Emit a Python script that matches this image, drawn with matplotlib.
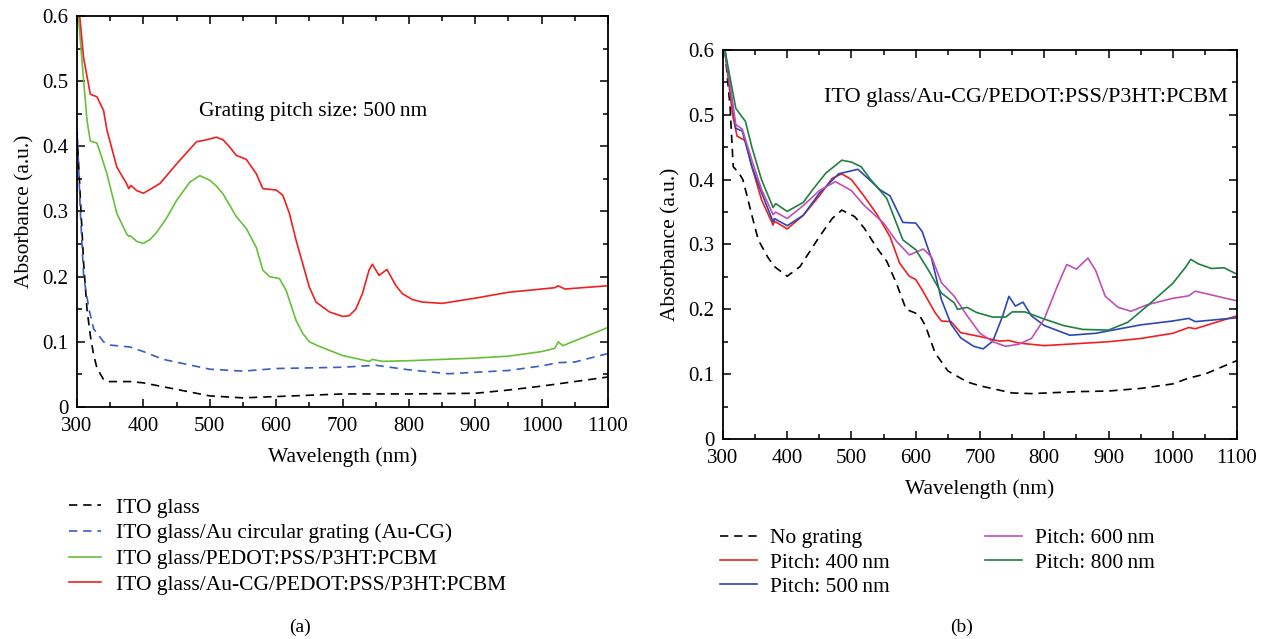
import numpy as np
import matplotlib.pyplot as plt
from matplotlib.ticker import MultipleLocator

# ---- данные панели (a) ----
ito_x = [300, 305, 310, 315, 320, 325, 330, 340, 345, 380, 400, 450, 500, 550, 600, 700, 800, 900, 950, 1000, 1100]
ito_y = [0.42, 0.32, 0.22, 0.15, 0.11, 0.08, 0.06, 0.042, 0.039, 0.039, 0.037, 0.027, 0.017, 0.014, 0.016, 0.02,
         0.02, 0.021, 0.026, 0.032, 0.046]

aucg_x = [300, 305, 310, 318, 325, 340, 350, 380, 400, 430, 500, 550, 600, 700, 750, 800, 860, 950, 1000, 1025,
          1050, 1100]
aucg_y = [0.43, 0.30, 0.20, 0.15, 0.12, 0.10, 0.095, 0.092, 0.085, 0.073, 0.058, 0.055, 0.059, 0.061, 0.064,
          0.057, 0.051, 0.056, 0.063, 0.068, 0.069, 0.082]

pedot_x = [302, 306, 310, 315, 320, 330, 335, 345, 360, 375, 378, 380, 390, 400, 410, 420, 435, 450, 470, 485,
           500, 510, 520, 540, 555, 570, 580, 590, 605, 615, 630, 640, 650, 665, 680, 700, 740, 745, 760, 800,
           900, 950, 1000, 1020, 1025, 1032, 1100]
pedot_y = [0.6, 0.55, 0.5, 0.44, 0.408, 0.405, 0.39, 0.358, 0.297, 0.265, 0.262, 0.263, 0.254, 0.251, 0.257,
           0.268, 0.29, 0.317, 0.345, 0.355, 0.348, 0.339, 0.327, 0.292, 0.274, 0.245, 0.21, 0.2, 0.197, 0.179,
           0.133, 0.113, 0.1, 0.093, 0.087, 0.079, 0.07, 0.073, 0.07, 0.071, 0.075, 0.078, 0.085, 0.09, 0.1,
           0.094, 0.122]

full_x = [304, 310, 320, 330, 340, 345, 360, 375, 378, 381, 390, 400, 412, 425, 450, 480, 495, 510, 520, 530,
          540, 555, 570, 580, 600, 610, 620, 630, 640, 650, 660, 680, 700, 710, 720, 730, 740, 745, 755, 767,
          780, 790, 805, 820, 850, 900, 950, 1000, 1020, 1025, 1035, 1100]
full_y = [0.6, 0.535, 0.48, 0.476, 0.455, 0.425, 0.368, 0.342, 0.335, 0.34, 0.332, 0.328, 0.335, 0.343, 0.373,
          0.407, 0.41, 0.414, 0.41, 0.399, 0.386, 0.38, 0.358, 0.335, 0.333, 0.325, 0.297, 0.256, 0.22, 0.184,
          0.161, 0.146, 0.139, 0.14, 0.15, 0.174, 0.21, 0.219, 0.202, 0.211, 0.187, 0.174, 0.165, 0.161, 0.159,
          0.167, 0.176, 0.181, 0.183, 0.186, 0.181, 0.186]

labels_a = ['ITO glass', 'ITO glass/Au circular grating (Au-CG)',
            'ITO glass/PEDOT:PSS/P3HT:PCBM', 'ITO glass/Au-CG/PEDOT:PSS/P3HT:PCBM']

# ---- данные панели (b) ----
nog_x = [303, 311, 316, 325, 331, 339, 345, 355, 370, 380, 400, 420, 450, 470, 485, 505, 520, 540, 555, 570,
         585, 605, 615, 630, 650, 680, 700, 750, 780, 850, 900, 950, 1000, 1025, 1050, 1100]
nog_y = [0.6, 0.513, 0.42, 0.41, 0.4, 0.369, 0.345, 0.307, 0.28, 0.266, 0.251, 0.266, 0.312, 0.34, 0.353, 0.343,
         0.325, 0.294, 0.274, 0.24, 0.2, 0.192, 0.175, 0.133, 0.105, 0.088, 0.082, 0.071, 0.07, 0.073, 0.074,
         0.078, 0.085, 0.094, 0.1, 0.121]

p400_x = [303, 315, 322, 335, 345, 360, 378, 380, 400, 425, 450, 470, 485, 500, 520, 540, 560, 575, 590, 600,
          610, 630, 640, 655, 670, 700, 730, 745, 760, 800, 900, 950, 1000, 1025, 1035, 1100]
p400_y = [0.6, 0.5, 0.467, 0.46, 0.42, 0.369, 0.33, 0.336, 0.324, 0.345, 0.375, 0.402, 0.409, 0.4, 0.374,
          0.346, 0.312, 0.271, 0.251, 0.246, 0.23, 0.195, 0.182, 0.181, 0.164, 0.158, 0.151, 0.152, 0.148,
          0.144, 0.15, 0.155, 0.163, 0.172, 0.17, 0.19]

p500_x = [303, 320, 330, 345, 360, 378, 380, 400, 425, 450, 480, 510, 530, 545, 560, 580, 600, 610, 625, 640,
          655, 670, 690, 705, 720, 735, 745, 755, 767, 780, 800, 840, 880, 950, 1000, 1025, 1035, 1100]
p500_y = [0.6, 0.479, 0.475, 0.42, 0.38, 0.335, 0.34, 0.329, 0.345, 0.379, 0.409, 0.416, 0.398, 0.384, 0.375,
          0.334, 0.333, 0.32, 0.277, 0.215, 0.177, 0.156, 0.143, 0.139, 0.151, 0.189, 0.22, 0.205, 0.211,
          0.19, 0.175, 0.16, 0.163, 0.176, 0.182, 0.186, 0.181, 0.187]

p600_x = [303, 320, 330, 345, 360, 378, 382, 400, 425, 450, 475, 500, 520, 550, 570, 590, 600, 612, 625, 640,
          660, 680, 700, 720, 740, 760, 780, 800, 820, 835, 850, 868, 880, 895, 915, 935, 960, 1000, 1020,
          1025, 1035, 1100]
p600_y = [0.6, 0.485, 0.478, 0.43, 0.385, 0.346, 0.35, 0.34, 0.36, 0.383, 0.397, 0.383, 0.36, 0.333, 0.305,
          0.284, 0.288, 0.293, 0.28, 0.241, 0.22, 0.19, 0.163, 0.15, 0.143, 0.146, 0.155, 0.185, 0.235, 0.269,
          0.262, 0.279, 0.26, 0.22, 0.203, 0.197, 0.207, 0.217, 0.22, 0.221, 0.228, 0.213]

p800_x = [303, 320, 328, 335, 345, 360, 378, 382, 400, 425, 440, 460, 485, 500, 515, 530, 555, 580, 600, 620,
          640, 660, 665, 680, 695, 720, 740, 750, 770, 800, 830, 860, 900, 930, 960, 1000, 1020, 1028, 1040,
          1060, 1080, 1100]
p800_y = [0.6, 0.51, 0.499, 0.49, 0.45, 0.4, 0.357, 0.363, 0.351, 0.365, 0.385, 0.41, 0.43, 0.427, 0.42, 0.4,
          0.371, 0.307, 0.292, 0.26, 0.225, 0.21, 0.2, 0.203, 0.195, 0.188, 0.188, 0.196, 0.196, 0.185, 0.175,
          0.169, 0.168, 0.18, 0.205, 0.24, 0.265, 0.277, 0.27, 0.263, 0.264, 0.254]

labels_b = ['No grating', 'Pitch: 400\u2009nm', 'Pitch: 500\u2009nm', 'Pitch: 600\u2009nm', 'Pitch: 800\u2009nm']

plt.rcParams['font.family'] = ['Liberation Serif', 'DejaVu Serif']
plt.rcParams['font.size'] = 15

DASH = (0, (5, 3.5))


def style_axes(ax):
    ax.set_xlim(300, 1100)
    ax.set_ylim(0, 0.6)
    ax.xaxis.set_major_locator(MultipleLocator(100))
    ax.xaxis.set_minor_locator(MultipleLocator(50))
    ax.yaxis.set_major_locator(MultipleLocator(0.1))
    ax.yaxis.set_minor_locator(MultipleLocator(0.05))
    ax.yaxis.set_major_formatter(lambda v, p: '0' if abs(v) < 1e-9 else f'{v:.1f}')
    ax.tick_params(which='both', direction='in', top=True, right=True, width=1.1, labelsize=15)
    ax.tick_params(axis='x', which='both', pad=7)
    ax.tick_params(axis='y', which='both', pad=6)
    ax.tick_params(which='major', length=6)
    ax.tick_params(which='minor', length=3.5)
    for s in ax.spines.values():
        s.set_linewidth(1.3)
    ax.set_xlabel('Wavelength (nm)', fontsize=15.5, labelpad=8)
    ax.set_ylabel('Absorbance (a.u.)', fontsize=15.5, labelpad=6)


fig = plt.figure(figsize=(12.69, 6.39), dpi=100)

# (a)
ax1 = fig.add_axes([0.0607, 0.3631, 0.4184, 0.6119])
ax1.plot(ito_x, ito_y, color='black', lw=1.2, ls=DASH, label=labels_a[0])
ax1.plot(aucg_x, aucg_y, color='#3a5cc0', lw=1.2, ls=DASH, label=labels_a[1])
ax1.plot(pedot_x, pedot_y, color='#66c03a', lw=1.2, label=labels_a[2])
ax1.plot(full_x, full_y, color='#f02020', lw=1.2, label=labels_a[3])
style_axes(ax1)
ax1.text(655, 0.453, 'Grating pitch size: 500\u2009nm', ha='center', va='center', fontsize=15.5)
ax1.legend(loc='upper left', bbox_to_anchor=(-0.032, -0.21), frameon=False, fontsize=15.5,
           handlelength=1.5, handletextpad=0.7, labelspacing=0.26, borderaxespad=0)

# (b)
ax2 = fig.add_axes([0.5697, 0.313, 0.4051, 0.6088])
ax2.plot(nog_x, nog_y, color='black', lw=1.2, ls=DASH, label=labels_b[0])
ax2.plot(p400_x, p400_y, color='#f02020', lw=1.2, label=labels_b[1])
ax2.plot(p500_x, p500_y, color='#2a48b0', lw=1.2, label=labels_b[2])
ax2.plot(p600_x, p600_y, color='#c050b4', lw=1.2, label=labels_b[3])
ax2.plot(p800_x, p800_y, color='#1e8040', lw=1.2, label=labels_b[4])
style_axes(ax2)
ax2.text(772, 0.526, 'ITO glass/Au-CG/PEDOT:PSS/P3HT:PCBM', ha='center', va='center', fontsize=16)
ax2.legend(loc='upper left', bbox_to_anchor=(-0.022, -0.207), frameon=False, fontsize=15.5, ncol=2,
           handlelength=1.7, handletextpad=0.6, labelspacing=0.2, columnspacing=4.45, borderaxespad=0)

fig.text(300 / 1269, 1 - 627 / 639, '(a)', ha='center', va='center', fontsize=14)
fig.text(962 / 1269, 1 - 627 / 639, '(b)', ha='center', va='center', fontsize=14)

fig.savefig('out.png', dpi=100)
